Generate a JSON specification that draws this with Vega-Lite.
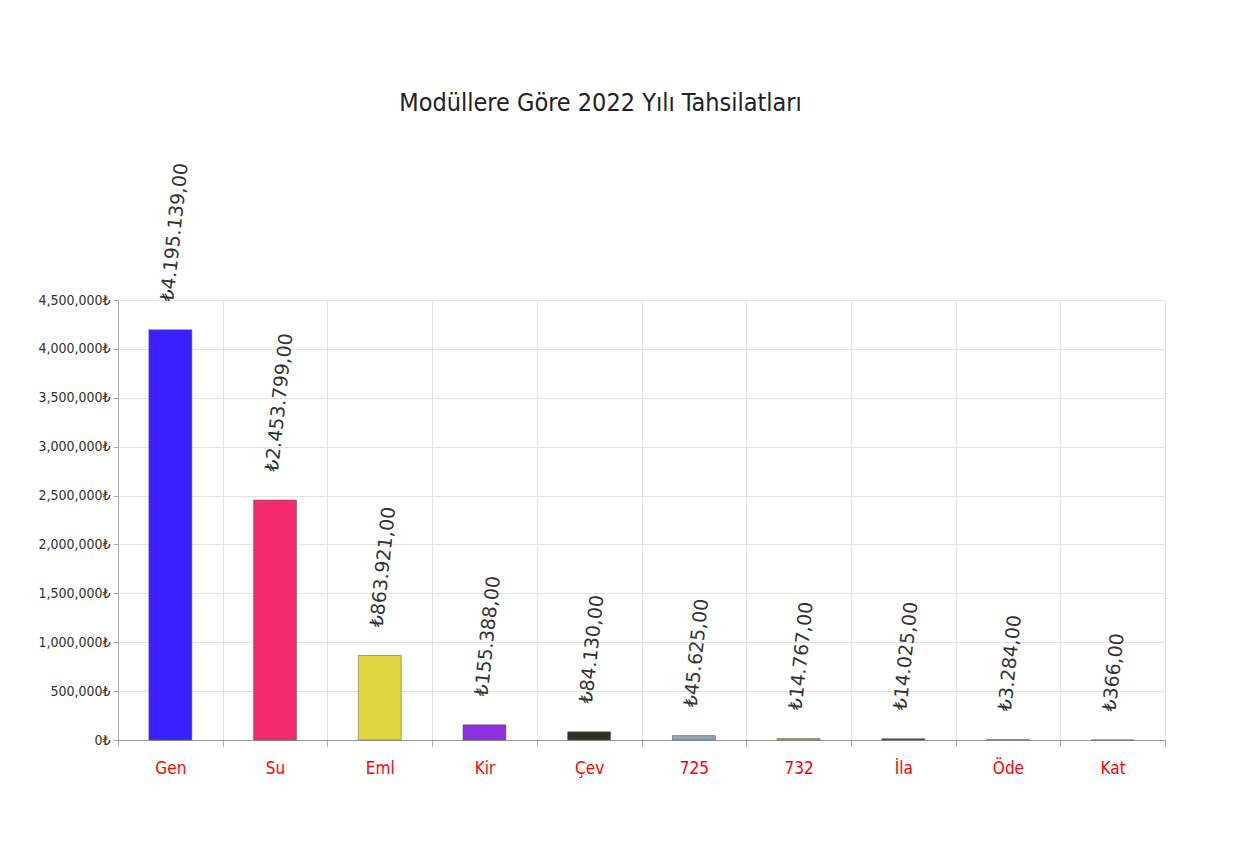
{
  "$schema": "https://vega.github.io/schema/vega-lite/v6.json",
  "autosize": "none",
  "width": 1047,
  "height": 440,
  "padding": {"left": 118, "top": 300, "right": 90, "bottom": 113},
  "background": "white",
  "title": {
    "text": "Modüllere Göre 2022 Yılı Tahsilatları",
    "font": "DejaVu Sans Condensed",
    "fontSize": 25,
    "fontWeight": "normal",
    "color": "#222222",
    "anchor": "middle",
    "dx": -41,
    "offset": 46
  },
  "data": {
    "values": [
      {"modul": "Gen", "tutar": 4195139, "etiket": "₺4.195.139,00", "renk": "#3a1fff"},
      {"modul": "Su", "tutar": 2453799, "etiket": "₺2.453.799,00", "renk": "#f32a6c"},
      {"modul": "Eml", "tutar": 863921, "etiket": "₺863.921,00", "renk": "#e0d640"},
      {"modul": "Kir", "tutar": 155388, "etiket": "₺155.388,00", "renk": "#8e2fe0"},
      {"modul": "Çev", "tutar": 84130, "etiket": "₺84.130,00", "renk": "#2c3326"},
      {"modul": "725", "tutar": 45625, "etiket": "₺45.625,00", "renk": "#93a4b4"},
      {"modul": "732", "tutar": 14767, "etiket": "₺14.767,00", "renk": "#d4a82a"},
      {"modul": "İla", "tutar": 14025, "etiket": "₺14.025,00", "renk": "#a3262e"},
      {"modul": "Öde", "tutar": 3284, "etiket": "₺3.284,00", "renk": "#5a8a3a"},
      {"modul": "Kat", "tutar": 366, "etiket": "₺366,00", "renk": "#e07a20"}
    ]
  },
  "encoding": {
    "x": {
      "field": "modul",
      "type": "nominal",
      "sort": null,
      "scale": {"paddingInner": 0, "paddingOuter": 0},
      "axis": {
        "title": null,
        "labelAngle": 0,
        "labelColor": "#ff0000",
        "labelFont": "DejaVu Sans Condensed",
        "labelFontSize": 17,
        "labelPadding": 14,
        "tickBand": "extent",
        "ticks": true,
        "tickSize": 6,
        "tickColor": "#aaaaaa",
        "domainColor": "#999999",
        "grid": true,
        "gridColor": "#e3e3e3"
      }
    },
    "y": {
      "field": "tutar",
      "type": "quantitative",
      "scale": {"domain": [0, 4500000], "nice": false},
      "axis": {
        "title": null,
        "values": [0, 500000, 1000000, 1500000, 2000000, 2500000, 3000000, 3500000, 4000000, 4500000],
        "labelExpr": "format(datum.value, ',') + '₺'",
        "labelFont": "DejaVu Sans Condensed",
        "labelFontSize": 14,
        "labelColor": "#333333",
        "labelPadding": 3,
        "tickSize": 5,
        "tickColor": "#aaaaaa",
        "domainColor": "#aaaaaa",
        "gridColor": "#e3e3e3"
      }
    }
  },
  "layer": [
    {
      "mark": {"type": "bar", "width": {"band": 0.41}, "strokeWidth": 1, "strokeOpacity": 0.5, "stroke": "#555555"},
      "encoding": {
        "color": {"field": "renk", "type": "nominal", "scale": null}
      }
    },
    {
      "mark": {"type": "text", "angle": 276, "align": "left", "baseline": "middle", "dx": 28, "dy": -6, "font": "DejaVu Sans", "fontSize": 19, "color": "#333333"},
      "encoding": {
        "text": {"field": "etiket"}
      }
    }
  ],
  "config": {
    "view": {"stroke": null}
  }
}
